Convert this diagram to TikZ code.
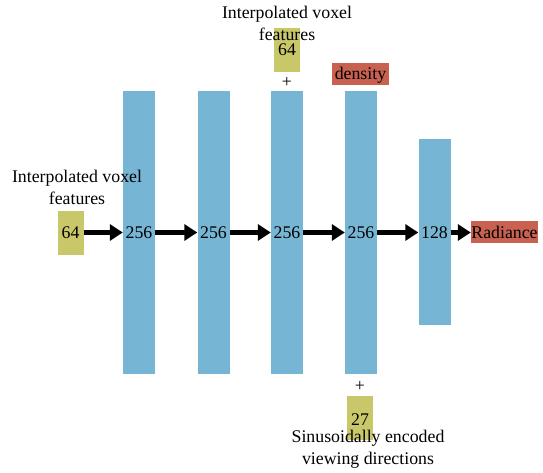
\documentclass[tikz,border=0pt]{standalone}
\usepackage{fontspec}
\setmainfont{Liberation Serif}
\usetikzlibrary{arrows.meta}
\definecolor{barblue}{HTML}{77B5D4}
\definecolor{featyel}{HTML}{C8C86A}
\definecolor{outred}{HTML}{C86150}
\begin{document}
\begin{tikzpicture}[x=1pt,y=-1pt,
  bar/.style={fill=barblue,draw=none,inner sep=0pt,minimum width=32pt},
  feat/.style={fill=featyel,draw=none,inner sep=0pt,minimum width=26pt,minimum height=44pt},
  outbox/.style={fill=outred,draw=none,inner sep=0pt,minimum height=22pt},
  lbl/.style={font=\fontsize{17.8}{22}\selectfont,inner sep=0pt,align=center},
  arr/.style={line width=4.5pt,-{Triangle[length=13pt,width=16pt]}}]
\useasboundingbox (0,0) rectangle (543,473);
% bars
\node[bar,minimum height=283pt] (b1) at (139,232.5) {};
\node[bar,minimum height=283pt] (b2) at (213.5,232.5) {};
\node[bar,minimum height=283pt] (b3) at (287,232.5) {};
\node[bar,minimum height=283pt] (b4) at (361,232.5) {};
\node[bar,minimum height=186pt] (b5) at (434.5,232) {};
% feature boxes
\node[feat] (f1) at (70.5,232.5) {};
\node[feat] (f2) at (287,50) {};
\node[feat] (f3) at (360,418) {};
% output boxes
\node[outbox,minimum width=57pt] (dens) at (360.5,74.5) {};
\node[outbox,minimum width=67pt] (rad) at (504.5,232) {};
% texts
\node[lbl] (t64a) at (70.5,232.5) {64};
\node[lbl] (t1) at (139,232.5) {256};
\node[lbl] (t2) at (213.5,232.5) {256};
\node[lbl] (t3) at (287,232.5) {256};
\node[lbl] (t4) at (361,232.5) {256};
\node[lbl] (t5) at (434.5,232.5) {128};
\node[lbl] (trad) at (504.5,232.5) {Radiance};
\node[lbl] (tdens) at (360.5,75) {density};
\node[lbl] (t64b) at (287,50) {64};
\node[lbl] (t27) at (360,420) {27};
\node[lbl] (plus1) at (287,82) {+};
\node[lbl] (plus2) at (360,386) {+};
\node[lbl] (lab1) at (77,187) {Interpolated voxel\\features};
\node[lbl] (lab2) at (287,23) {Interpolated voxel\\features};
\node[lbl] (lab3) at (368,449) {Sinusoidally encoded\\viewing directions};
% arrows
\draw[arr] (f1.east) -- (b1.west |- f1.east);
\draw[arr] (b1.east |- t1) -- (b2.west |- t1);
\draw[arr] (b2.east |- t2) -- (b3.west |- t2);
\draw[arr] (b3.east |- t3) -- (b4.west |- t3);
\draw[arr] (b4.east |- t4) -- (b5.west |- t4);
\draw[arr] (b5.east |- t5) -- (rad.west |- t5);
\end{tikzpicture}
\end{document}
